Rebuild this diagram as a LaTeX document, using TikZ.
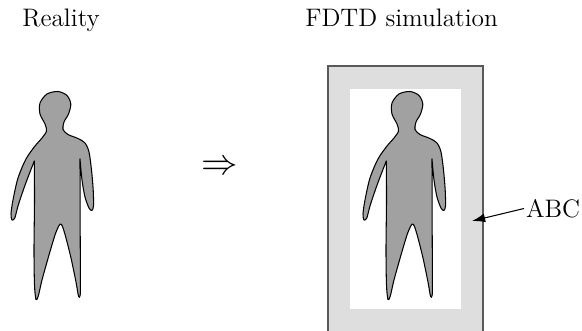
\documentclass[tikz,border=0pt]{standalone}
\usepackage{tikz}
\usetikzlibrary{arrows.meta}

\begin{document}
\begin{tikzpicture}[x=0.02cm,y=-0.02cm,>={Latex[length=7.5pt,width=5pt]},font=\Large,
    body/.style={draw=black,fill=black!37,line width=0.6pt,line join=round},
    absorb/.style={draw=black!65,fill=black!13,line width=0.7pt}]
  \useasboundingbox (0,0) rectangle (582,331);
  % titles
  \node[anchor=base west,inner sep=0pt] (reality) at (22,27) {Reality};
  \node[anchor=base west,inner sep=0pt] (fdtd) at (305,27) {FDTD simulation};
  \node (implies) at (220,168) {\huge$\Rightarrow$};
  % grid with its absorbing layer
  \draw[absorb] (328,66) rectangle (483,336);
  \fill[white] (350,89) rectangle (461,309);
  % the person, once as it is and once inside the grid
  \foreach \dx in {0,352}
    \draw[body,shift={(\dx,0)}] (34.3,161)
      -- plot[smooth,tension=0.5] coordinates {(34.3,161) (34.5,200) (34,250) (34.5,285) (36,299.5)
         (38.3,296) (42,280) (49,255) (55,235) (58.5,226.5) (60.5,224) (62.5,226.5) (66,238) (71,258)
         (76,282) (78.6,296.5) (80.2,295) (80.4,280) (80.2,230) (80,159)}
      -- plot[smooth,tension=0.5] coordinates {(80,159) (82,180) (85,197) (89,208) (91.8,210.5)
         (93.5,206) (93.2,190) (91.5,170) (89,152) (85,143) (78,138.5) (68,134.5) (63,129.5) (64,122)
         (68.5,114) (70.8,104) (67,95.5) (58,91.5) (47,94) (40,103) (40,114) (45,124) (46.5,131)
         (42,138) (35,146) (26,159) (18,178) (13,200) (11,214) (12,220) (14.8,218) (18,206) (24,188)
         (30,172) (34.3,161)}
      -- cycle;
  % label of the layer
  \coordinate (tip) at (472,221);
  \node[anchor=west,inner sep=1pt] (abc) at (524,208.5) {ABC};
  \draw[->,line width=0.6pt] (abc.west) -- (tip);
\end{tikzpicture}
\end{document}
